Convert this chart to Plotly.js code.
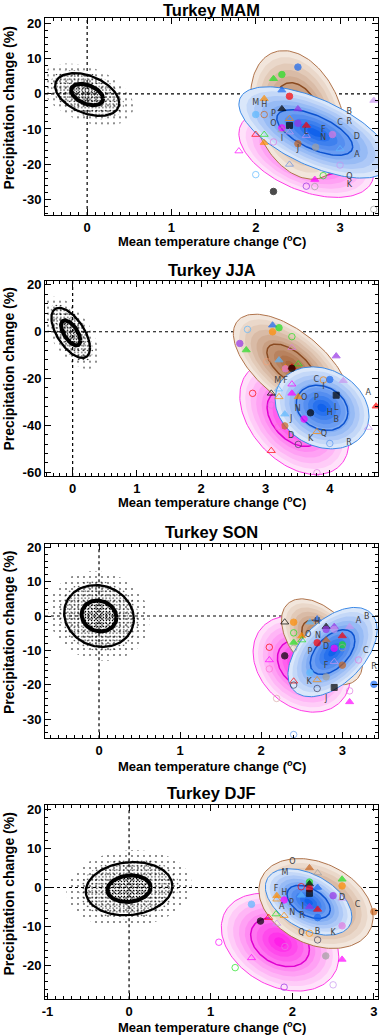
<!DOCTYPE html>
<html><head><meta charset="utf-8">
<script src="https://cdn.plot.ly/plotly-3.0.1.min.js"></script>
<style>html,body{margin:0;padding:0;background:#fff}#chart{width:380px;height:1035px}</style>
</head><body><div id="chart"></div>
<script>
// ---------------- DATA ----------------
const titles = ['Turkey MAM','Turkey JJA','Turkey SON','Turkey DJF'];
const xTickVals = [[0,1,2,3],[0,1,2,3,4],[0,1,2,3],[-1,0,1,2,3]];
const xTickText = [['0','1','2','3'],['0','1','2','3','4'],['0','1','2','3'],['-1','0','1','2','3']];
const yTickVals = [[-30,-20,-10,0,10,20],[-60,-40,-20,0,20],[-30,-20,-10,0,10,20],[-20,-10,0,10,20]];
const yTickText = [['-30','-20','-10','0','10','20'],['-60','-40','-20','0','20'],['-30','-20','-10','0','10','20'],['-20','-10','0','10','20']];
const xRanges = [[-0.5,3.45],[-0.43,4.75],[-0.666,3.44],[-1.03,3.05]];
const yRanges = [[-34.5,21.5],[-61.6,21.8],[-35.6,20.96],[-28.6,21.1]];

// ellipses: [centre x, centre y, half-width, half-height, correlation]
const noiseEll = [[0,-0.2,0.38,6.1,-0.4],[-0.03,-0.5,0.3,10.7,-0.6],[0,0,0.43,9,-0.1],[0,-0.3,0.53,6.8,0.1]];
const magEll   = [[2.6,-17,0.8,12.5,-0.45],[3.45,-37,0.85,24,-0.4],[2.5,-14,0.6,14,-0.25],[1.85,-14,0.72,12.5,-0.3]];
const brnEll   = [[2.5,-6,0.56,18.3,-0.3],[3.4,-14.5,0.9,22,-0.62],[2.75,-7.5,0.5,12.5,-0.5],[2.29,-4.1,0.7,11.5,-0.3]];
const bluEll   = [[2.7,-11,0.9,13,-0.62],[3.88,-32.5,0.73,17.5,-0.2],[2.88,-10.5,0.55,13,0.5],[2.2,-3.7,0.53,8.5,-0.45]];
const contourFrac = {mag:[0.5,0.5,0.5,0.5], brn:[0.5,0.42,0.5,0.5], blu:[0.5,0.55,0.5,0.5]};

// model points
const mamX = [2.50,2.31,2.21,2.31,2.40,2.10,2.00,2.10,2.31,2.50,2.31,2.40,2.50,2.60,2.40,2.40,2.31,2.60,2.91,2.71,2.50,2.00,2.10,2.10,2.21,1.80,3.00,2.40,3.00,2.00,2.80,2.70,2.60,2.70,2.21,3.40,3.40];
const mamY = [7.6,5.5,4.3,1.05,-0.7,-1.4,-5.9,-5.9,-4.3,-4.3,-9.7,-9.0,-8.4,-9.0,-7.1,-10.9,-10.3,-11.9,-11.6,-15.2,-14.2,-11.6,-11.6,-13.9,-13.7,-16.3,-15.7,-20.1,-20.3,-23.0,-23.3,-24.4,-26.3,-26.4,-27.8,-1.9,-32.9];
const mamSym = ['o','o','t','t','o','t','o','O','t','t','o','s','o','t','T','T','T','T','o','o','o','T','T','t','O','T','T','T','O','O','O','t','O','O','o','t','O'];
const mamCol = ['bl','gr','gr','bl','rd','or','sk','ch','bk','pu','mg','bk','pu','rd','or','lv','gy','lv','oc','gy','ch','rd','gr','or','oc','mg','sk','sb','lv','sk','gr','mg','pu','gy','bk','lv','gy'];
const mamLab = ['M','H','P','O','I','L','F','N','C','R','B','D','A','J','Q','K'];
const mamLabX = [2.00,2.10,2.21,2.21,2.31,2.60,2.80,2.80,3.00,3.11,3.11,3.20,3.20,2.50,3.11,3.11];
const mamLabY = [-2.6,-3.2,-5.7,-8.7,-12.8,-11.0,-10.4,-12.6,-8.3,-8.1,-5.1,-12.3,-17.4,-15.6,-23.6,-26.0];

const jjaX = [2.60,2.72,3.11,3.11,3.21,3.41,3.41,2.70,4.10,3.02,3.21,3.51,3.31,3.31,3.41,3.41,3.41,3.20,3.09,3.21,2.80,3.41,3.51,3.90,4.00,4.21,4.10,4.72,4.60,3.09,3.70,3.30,3.60,3.30,3.20,3.80,3.51,4.00,3.09,3.80];
const jjaY = [-5.0,1.0,2.8,0.0,1.7,-2.1,-6.8,-7.8,-10.4,-12.8,-12.1,-13.8,-15.4,-15.8,-15.2,-15.6,-22.4,-24.5,-26.3,-27.8,-26.3,-26.3,-27.8,-20.6,-20.4,-20.9,-27.1,-31.8,-40.9,-31.3,-34.6,-35.2,-37.3,-40.2,-40.6,-42.7,-48.1,-47.7,-50.8,-60.2];
const jjaSym = ['o','O','t','o','o','O','T','t','t','O','t','T','t','o','t','o','T','T','T','T','O','t','t','O','o','t','s','t','T','O','o','t','o','o','O','T','O','O','T','O'];
const jjaCol = ['pu','sk','bl','or','gr','gr','oc','gr','pu','sa','sk','gr','or','oc','rd','bk','mg','sk','bk','or','rd','mg','or','or','bl','lv','bk','rd','lv','oc','bk','sk','mg','ch','pk','or','dk','lb','rd','oc'];
const jjaLab = ['M','F','C','I','O','P','A','N','H','L','B','J','Q','D','K','R'];
const jjaLabX = [3.19,3.31,3.79,3.90,3.60,3.79,4.60,3.50,4.00,4.10,4.10,3.40,3.91,3.40,3.70,4.30];
const jjaLabY = [-20.9,-20.9,-20.6,-23.4,-28.5,-28.5,-26.3,-33.2,-34.6,-32.4,-37.8,-37.3,-43.7,-44.4,-45.8,-47.7];

const sonX = [2.29,2.40,2.60,2.69,3.09,2.40,2.50,2.50,2.80,2.90,2.80,2.90,3.00,2.40,2.40,2.69,2.80,2.90,3.00,3.00,2.29,2.10,2.10,2.10,2.90,3.00,3.20,2.60,2.69,2.80,2.40,2.40,2.69,2.90,3.39,3.09,3.09,2.19,2.40];
const sonY = [-1.8,-1.8,-1.8,-0.9,-3.1,-4.9,-5.8,-7.0,-3.1,-3.1,-3.9,-3.9,-5.8,-7.7,-9.4,-7.8,-7.0,-9.4,-8.4,-9.2,-11.6,-9.1,-12.8,-15.4,-13.3,-14.3,-12.8,-16.5,-18.6,-17.7,-19.0,-20.1,-21.1,-20.8,-19.9,-21.8,-25.0,-24.0,-34.5];
const sonSym = ['T','o','t','t','t','O','t','T','t','t','o','o','t','t','O','o','t','o','o','O','o','O','T','O','T','o','O','o','T','o','T','O','O','s','o','O','t','O','O'];
const sonCol = ['bk','or','sk','bl','lv','gr','or','gr','bk','pu','pu','lv','rd','gr','gy','rd','ch','mg','gr','gy','bk','rd','mg','pk','lv','ch','oc','sk','or','gy','rd','dk','dk','bk','bl','oc','mg','rs','lb'];
const sonLab = ['H','A','B','O','N','D','P','C','F','R','K','J'];
const sonLabX = [2.69,3.20,3.30,2.58,2.70,2.80,2.60,3.29,2.80,3.39,2.59,2.80];
const sonLabY = [-1.8,-1.4,-0.4,-5.5,-5.8,-8.9,-10.4,-10.2,-14.6,-14.8,-19.1,-24.2];

const djfX = [2.21,2.31,2.61,2.61,2.21,2.21,2.21,2.21,2.11,2.31,1.81,1.81,1.90,2.11,2.50,2.61,1.50,2.21,2.31,2.31,1.80,1.90,1.71,1.81,1.61,2.61,2.21,2.31,1.91,1.10,2.41,2.61,1.50,1.30,1.90,2.50,3.00];
const djfY = [5.0,3.7,2.1,0.4,1.4,0.9,-0.3,-1.5,0.2,0.0,-2.1,-3.0,-3.2,-2.0,-2.1,-2.8,-4.3,-4.9,-5.6,-7.7,-6.8,-7.2,-7.7,-9.2,-8.6,-9.8,-11.7,-13.4,-15.1,-14.0,-17.5,-18.4,-18.0,-20.5,-25.5,-24.9,-6.2];
const djfSym = ['t','T','t','o','o','t','o','s','O','t','t','T','o','t','o','T','o','t','t','o','T','T','T','T','o','o','O','O','O','O','o','t','T','O','O','O','o'];
const djfCol = ['ch','gy','gr','or','gr','bk','rd','bk','rd','bl','or','or','mg','sk','pu','lv','sk','pu','rd','bl','gr','or','rd','lv','bk','oc','or','dk','oc','mg','gy','mg','mg','gr','pu','lv','ch'];
const djfLab = ['O','M','F','H','D','C','P','I','A','N','R','Q','B','K'];
const djfLabX = [2.00,1.91,1.80,1.90,2.61,2.80,1.99,2.13,1.87,2.00,2.12,2.11,2.31,2.50];
const djfLabY = [6.6,3.8,-0.5,-1.4,-2.8,-4.5,-3.9,-4.9,-5.1,-6.4,-7.4,-11.6,-11.3,-11.7];

// ---------------- STYLE / LAYOUT ----------------
const colorMap = {bl:'#1466f0',gr:'#20e020',rd:'#ff0000',or:'#ff8c00',bk:'#000000',pu:'#9632e6',mg:'#ff00ff',
  sk:'#5cb8ff',ch:'#c8641e',gy:'#a0a0a0',lv:'#c896f0',oc:'#e07ae0',sa:'#f0a078',pk:'#ff70d0',dk:'#404060',
  sb:'#6a8ee0',rs:'#d8a8a8',lb:'#5a96f0'};
const symMap = {o:'circle',O:'circle-open',t:'triangle-up',T:'triangle-up-open',s:'square'};
const pals = {
  mag:{outer:[255,226,250],inner:[255,30,232],edge:'#ff3ce6',line:'#e000d0'},
  brn:{outer:[242,230,220],inner:[168,102,58],edge:'#b0744c',line:'#8a4a20'},
  blu:{outer:[218,231,250],inner:[18,98,235],edge:'#3d8ae6',line:'#0b52cf'}
};
const panelTop = [18.3,280.7,544,805], panelBot = [215,476,738.3,999.3];
const titleY = [10,270,531.5,792.5], xTitleY = [241,501.5,766,1026.5], yTitleY = [108,369,632.5,894];
const yMinor = [2,4,2,2];
const W = 380, H = 1035;

const panelData = [
  [mamX,mamY,mamSym,mamCol,mamLab,mamLabX,mamLabY],
  [jjaX,jjaY,jjaSym,jjaCol,jjaLab,jjaLabX,jjaLabY],
  [sonX,sonY,sonSym,sonCol,sonLab,sonLabX,sonLabY],
  [djfX,djfY,djfSym,djfCol,djfLab,djfLabX,djfLabY]
];

function ell(p,f,n){
  n = n||140;
  const cx=p[0],cy=p[1],hw=p[2],hh=p[3],r=p[4],s=Math.sqrt(1-r*r);
  const xs=[],ys=[];
  for(let k=0;k<=n;k++){const t=2*Math.PI*k/n;
    xs.push(cx+f*hw*Math.cos(t)); ys.push(cy+f*hh*(r*Math.cos(t)+s*Math.sin(t)));}
  return [xs,ys];
}
function mix(a,b,t){return 'rgb('+a.map((v,i)=>Math.round(v+(b[i]-v)*t)).join(',')+')';}

const traces=[], shapes=[], annotations=[];
const layout = {width:W,height:H,margin:{l:0,r:0,t:0,b:0},paper_bgcolor:'#fff',plot_bgcolor:'#fff',
  showlegend:false,shapes:shapes,annotations:annotations};
const tickFont = {family:'Liberation Sans, Arial, sans-serif',size:13,color:'#000',weight:'bold'};
// stipple layers for the noise cloud: [ellipse scale, pattern cell px, solidity]
const stipple = [[1.45,6,0.06],[1.15,4.5,0.08],[1.0,3.5,0.12],[0.55,3,0.2]];

for(let i=0;i<4;i++){
  const s = i===0?'':String(i+1);
  const xa='x'+s, ya='y'+s;
  const common = {showline:true,linecolor:'#000',linewidth:1,mirror:'ticks',ticks:'inside',ticklen:6,
    tickwidth:1,tickcolor:'#000',showgrid:false,zeroline:false,tickfont:tickFont,fixedrange:true};
  layout['xaxis'+s] = Object.assign({},common,{domain:[45/W,378/W],range:xRanges[i],anchor:ya,
    tickmode:'array',tickvals:xTickVals[i],ticktext:xTickText[i],
    minor:{ticks:'inside',ticklen:3,dtick:0.1,tick0:0,tickcolor:'#000',tickwidth:1}});
  layout['yaxis'+s] = Object.assign({},common,{domain:[1-panelBot[i]/H,1-panelTop[i]/H],range:yRanges[i],anchor:xa,
    tickmode:'array',tickvals:yTickVals[i],ticktext:yTickText[i],
    minor:{ticks:'inside',ticklen:3,dtick:yMinor[i],tick0:0,tickcolor:'#000',tickwidth:1}});

  shapes.push({type:'line',xref:xa,yref:ya+' domain',x0:0,x1:0,y0:0,y1:1,layer:'below',line:{color:'#000',width:1.2,dash:'dot'}});
  shapes.push({type:'line',xref:xa+' domain',yref:ya,x0:0,x1:1,y0:0,y1:0,layer:'below',line:{color:'#000',width:1.2,dash:'dot'}});

  stipple.forEach(function(q){
    const e=ell(noiseEll[i],q[0]);
    traces.push({type:'scatter',mode:'lines',x:e[0],y:e[1],xaxis:xa,yaxis:ya,fill:'toself',
      fillcolor:'rgba(0,0,0,0)',line:{width:0,color:'rgba(0,0,0,0)'},hoverinfo:'skip',
      fillpattern:{shape:'.',fgcolor:'#000',bgcolor:'rgba(0,0,0,0)',size:q[1],solidity:q[2],fillmode:'replace'}});
  });
  [[1.0,2.3],[0.5,4]].forEach(function(q){
    const e=ell(noiseEll[i],q[0]);
    traces.push({type:'scatter',mode:'lines',x:e[0],y:e[1],xaxis:xa,yaxis:ya,line:{color:'#000',width:q[1]},hoverinfo:'skip'});
  });

  [['mag',magEll],['brn',brnEll],['blu',bluEll]].forEach(function(d){
    const key=d[0], p=d[1][i], pal=pals[key], N=10;
    for(let k=0;k<N;k++){
      const f=1-k/N, e=ell(p,f);
      traces.push({type:'scatter',mode:'lines',x:e[0],y:e[1],xaxis:xa,yaxis:ya,fill:'toself',
        fillcolor:mix(pal.outer,pal.inner,k/(N-1)),
        line:k===0?{color:pal.edge,width:1}:{width:0,color:'rgba(0,0,0,0)'},hoverinfo:'skip'});
    }
    const c=ell(p,contourFrac[key][i]);
    traces.push({type:'scatter',mode:'lines',x:c[0],y:c[1],xaxis:xa,yaxis:ya,line:{color:pal.line,width:1.5},hoverinfo:'skip'});
  });

  const pd=panelData[i];
  const cols=pd[3].map(c=>colorMap[c]);
  traces.push({type:'scatter',mode:'markers',x:pd[0],y:pd[1],xaxis:xa,yaxis:ya,hoverinfo:'skip',
    marker:{symbol:pd[2].map(c=>symMap[c]),color:cols,size:pd[2].map(c=>c==='s'?6:(c==='t'||c==='T'?7:6.5)),
      line:{color:cols,width:1}}});
  traces.push({type:'scatter',mode:'text',x:pd[5],y:pd[6],text:pd[4],xaxis:xa,yaxis:ya,hoverinfo:'skip',
    textfont:{family:'DejaVu Sans, sans-serif',size:8,color:'#404040'}});

  annotations.push({xref:'paper',yref:'paper',x:211.5/W,y:1-titleY[i]/H,text:titles[i],showarrow:false,
    xanchor:'center',yanchor:'middle',font:{family:'Liberation Sans, Arial, sans-serif',size:16.5,color:'#000',weight:'bold'}});
  annotations.push({xref:'paper',yref:'paper',x:211.5/W,y:1-xTitleY[i]/H,text:'Mean temperature change (<sup>o</sup>C)',
    showarrow:false,xanchor:'center',yanchor:'middle',font:{family:'Liberation Sans, Arial, sans-serif',size:13,color:'#000',weight:'bold'}});
  annotations.push({xref:'paper',yref:'paper',x:8.5/W,y:1-yTitleY[i]/H,text:'Precipitation change (%)',textangle:-90,
    showarrow:false,xanchor:'center',yanchor:'middle',font:{family:'Liberation Sans, Arial, sans-serif',size:14,color:'#000',weight:'bold'}});
}

traces.forEach(t=>{t.showlegend=false;});
Plotly.newPlot('chart',traces,layout,{staticPlot:true,displayModeBar:false});
</script></body></html>
